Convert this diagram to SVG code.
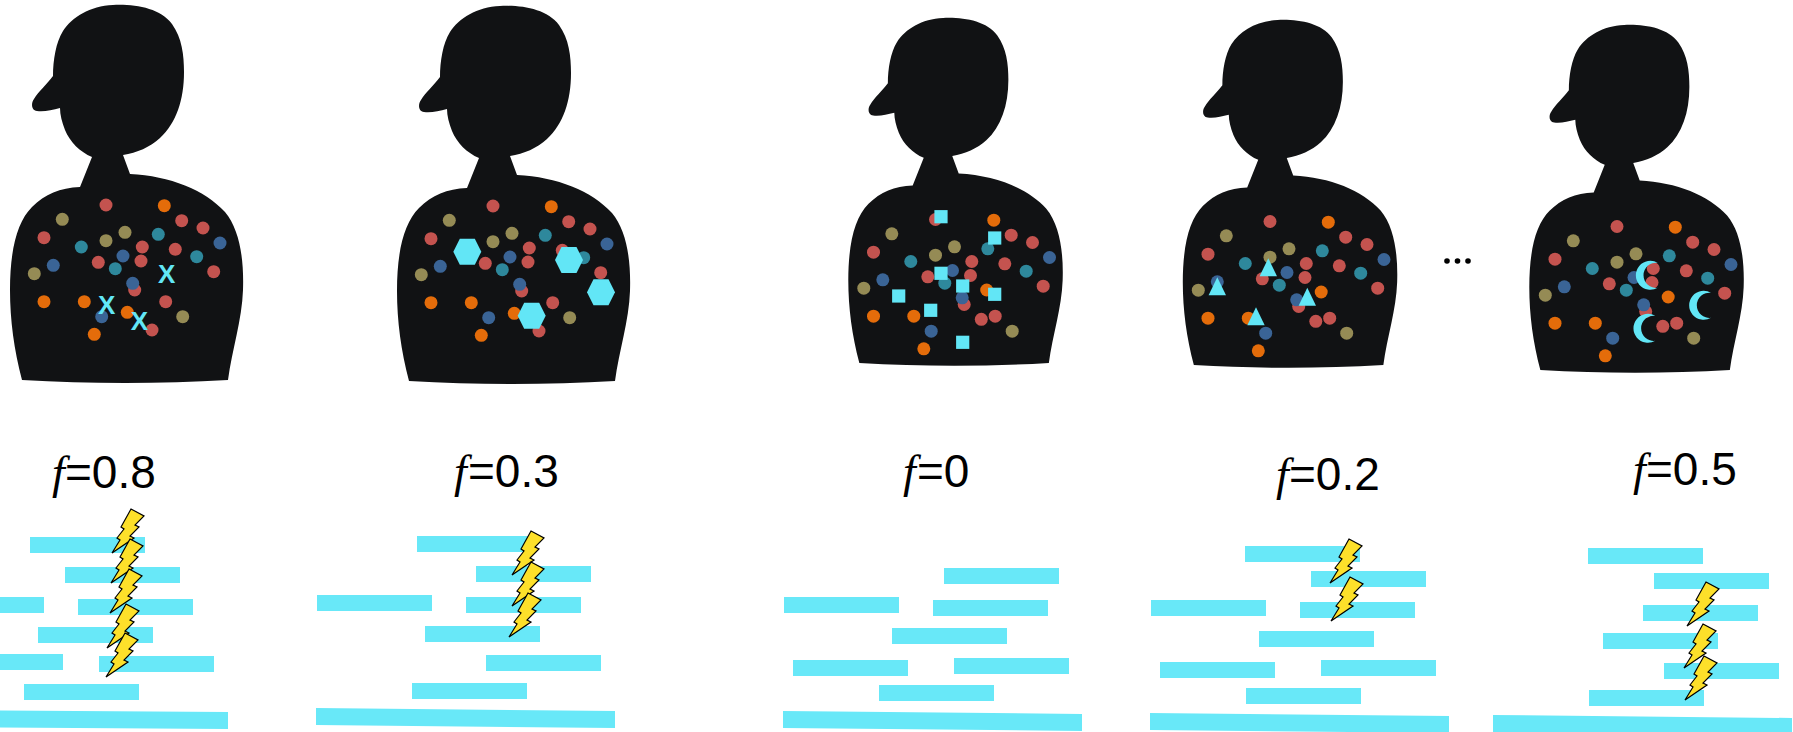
<svg xmlns="http://www.w3.org/2000/svg" xmlns:xlink="http://www.w3.org/1999/xlink" width="1793" height="732" viewBox="0 0 1793 732">
  <style>
    .body { fill: #111214; }
    .r { fill: #c4534f; }
    .o { fill: #e46c0a; }
    .v { fill: #958b55; }
    .t { fill: #2e889c; }
    .b { fill: #3a6496; }
    .mark { fill: #62e6f6; }
    .read { fill: #68e8f8; }
    .bolt { fill: #fde02a; stroke: #000; stroke-width: 1.2; stroke-linejoin: miter; }
    .lbl { font-family: "Liberation Sans", Arial, sans-serif; font-size: 46px; fill: #000; }
    .fv { font-family: "Liberation Serif", "Times New Roman", serif; font-style: italic; font-size: 46px; fill: #000; }
    .xm { font-family: "Liberation Sans", Arial, sans-serif; font-weight: bold; font-size: 26px; fill: #62e6f6; text-anchor: middle; }
  </style>
  <defs>
    <!-- person silhouette with cap -->
    <path id="person" class="body" d="M113,5 C135,4 160,8 172,24 C182,38 184,55 184,72 C184,100 176,123 160,138 C150,147 137,153 123,155 L130,174 C170,176 205,190 225,212 C240,230 244,260 243,290 C242,320 232,350 228,380 C160,384 90,384 22,380 C14,350 10,320 10,290 C10,250 17,222 32,207 C45,194 60,188 80,187 L92,157 C80,152 70,142 65,130 C62,122 60,115 60,108 C52,110 44,112 37,111 C31,110 31,103 34,99 C38,92 47,84 53,76 C53,60 56,42 63,31 C72,17 90,6 113,5 Z"/>
    <!-- dots shared by every individual -->
    <g id="dots-common">
      <circle class="r" cx="106" cy="205" r="6.5"/>
      <circle class="o" cx="164.3" cy="205.7" r="6.5"/>
      <circle class="v" cx="62.3" cy="219.3" r="6.5"/>
      <circle class="r" cx="181.7" cy="220.7" r="6.5"/>
      <circle class="r" cx="203" cy="228" r="6.5"/>
      <circle class="r" cx="44" cy="237.7" r="6.5"/>
      <circle class="v" cx="125" cy="232.3" r="6.5"/>
      <circle class="t" cx="158.3" cy="234.3" r="6.5"/>
      <circle class="v" cx="106" cy="240.7" r="6.5"/>
      <circle class="b" cx="220" cy="243" r="6.5"/>
      <circle class="t" cx="81.3" cy="247" r="6.5"/>
      <circle class="r" cx="142.3" cy="247" r="6.5"/>
      <circle class="r" cx="175.3" cy="249.3" r="6.5"/>
      <circle class="b" cx="123" cy="256" r="6.5"/>
      <circle class="t" cx="196.7" cy="256.7" r="6.5"/>
      <circle class="r" cx="98.3" cy="262.3" r="6.5"/>
      <circle class="r" cx="141" cy="261" r="6.5"/>
      <circle class="b" cx="53.3" cy="265.3" r="6.5"/>
      <circle class="t" cx="115.3" cy="268.7" r="6.5"/>
      <circle class="v" cx="34.3" cy="273.7" r="6.5"/>
      <circle class="r" cx="213.7" cy="271.7" r="6.5"/>
      <circle class="r" cx="134.7" cy="290" r="6.5"/>
      <circle class="b" cx="132.7" cy="283.3" r="6.5"/>
      <circle class="o" cx="44" cy="301.7" r="6.5"/>
      <circle class="o" cx="84.3" cy="301.7" r="6.5"/>
      <circle class="r" cx="165.7" cy="301.7" r="6.5"/>
      <circle class="b" cx="101.7" cy="316.7" r="6.5"/>
      <circle class="v" cx="182.7" cy="316.7" r="6.5"/>
      <circle class="o" cx="94.3" cy="334.3" r="6.5"/>
    </g>
    <g id="dots-a">
      <use xlink:href="#dots-common"/>
      <circle class="o" cx="127.3" cy="312.3" r="6.5"/>
      <circle class="r" cx="152" cy="330" r="6.5"/>
    </g>
    <g id="dots-b">
      <use xlink:href="#dots-common"/>
      <circle class="o" cx="157.2" cy="275.5" r="6.5"/>
      <circle class="r" cx="151.8" cy="304.8" r="6.5"/>
    </g>
    <polygon id="bolt" class="bolt" points="19,0 32,7 23,16 27,18 18,27 22,29 0,44 8,31 5,29 12,20 9,18"/>
    <polygon id="hex" class="mark" points="-14,0 -7.5,-13 7.5,-13 14,0 7.5,13 -7.5,13"/>
    <rect id="sq" class="mark" x="-6.6" y="-6.6" width="13.2" height="13.2"/>
    <polygon id="tri" class="mark" points="0,0 8.7,18 -8.7,18"/>
    <path id="moon" class="mark" d="M7,-12.5 A14.5,14.5 0 1 0 7,12.5 A12.6,12.6 0 1 1 7,-12.5 Z"/>
  </defs>

  <rect width="1793" height="732" fill="#fff"/>

  <!-- individual 1: f=0.8 -->
  <g id="fig-08">
    <use xlink:href="#person"/>
    <use xlink:href="#dots-a"/>
    <text class="xm" x="166.7" y="282.6">X</text>
    <text class="xm" x="106.7" y="314.3">X</text>
    <text class="xm" x="139.3" y="330">X</text>
    <text class="fv" x="52" y="488">f</text>
    <text class="lbl" x="65" y="488">=0.8</text>
    <g class="reads">
      <rect class="read" x="30" y="537" width="115" height="16"/>
      <rect class="read" x="65" y="567" width="115" height="16"/>
      <rect class="read" x="0" y="597" width="44" height="16"/>
      <rect class="read" x="78" y="599" width="115" height="16"/>
      <rect class="read" x="38" y="627" width="115" height="16"/>
      <rect class="read" x="0" y="654" width="63" height="16"/>
      <rect class="read" x="99" y="656" width="115" height="16"/>
      <rect class="read" x="24" y="684" width="115" height="16"/>
      <polygon class="read" points="-71,710 228,712 228,729 -71,727"/>
    </g>
    <use xlink:href="#bolt" x="112" y="509"/>
    <use xlink:href="#bolt" x="111" y="539"/>
    <use xlink:href="#bolt" x="110" y="569"/>
    <use xlink:href="#bolt" x="107" y="604"/>
    <use xlink:href="#bolt" x="106" y="633"/>
  </g>

  <!-- individual 2: f=0.3 -->
  <g id="fig-03">
    <use xlink:href="#person" transform="translate(387,1)"/>
    <use xlink:href="#dots-a" transform="translate(387,1)"/>
    <use xlink:href="#hex" x="467.3" y="251.7"/>
    <use xlink:href="#hex" x="569" y="260"/>
    <use xlink:href="#hex" x="601" y="292.3"/>
    <use xlink:href="#hex" x="531.7" y="315.7"/>
    <text class="fv" x="454" y="487">f</text>
    <text class="lbl" x="468" y="487">=0.3</text>
    <g class="reads">
      <rect class="read" x="417" y="536" width="115" height="16"/>
      <rect class="read" x="476" y="566" width="115" height="16"/>
      <rect class="read" x="317" y="595" width="115" height="16"/>
      <rect class="read" x="466" y="597" width="115" height="16"/>
      <rect class="read" x="425" y="626" width="115" height="16"/>
      <rect class="read" x="486" y="655" width="115" height="16"/>
      <rect class="read" x="412" y="683" width="115" height="16"/>
      <polygon class="read" points="316,708 615,711 615,728 316,725"/>
    </g>
    <use xlink:href="#bolt" x="512" y="531"/>
    <use xlink:href="#bolt" x="512" y="562"/>
    <use xlink:href="#bolt" x="509" y="593"/>
  </g>

  <!-- individual 3: f=0 -->
  <g id="fig-0">
    <use xlink:href="#person" transform="translate(839.1,13.4) scale(0.92)"/>
    <use xlink:href="#dots-b" transform="translate(829.5,14.5)"/>
    <use xlink:href="#sq" x="941" y="216.7"/>
    <use xlink:href="#sq" x="994.7" y="238"/>
    <use xlink:href="#sq" x="941" y="273.3"/>
    <use xlink:href="#sq" x="962.7" y="286"/>
    <use xlink:href="#sq" x="898.7" y="296"/>
    <use xlink:href="#sq" x="994.7" y="294.3"/>
    <use xlink:href="#sq" x="930.7" y="310.3"/>
    <use xlink:href="#sq" x="962.7" y="342.3"/>
    <text class="fv" x="903" y="487">f</text>
    <text class="lbl" x="917" y="487">=0</text>
    <g class="reads">
      <rect class="read" x="944" y="568" width="115" height="16"/>
      <rect class="read" x="784" y="597" width="115" height="16"/>
      <rect class="read" x="933" y="600" width="115" height="16"/>
      <rect class="read" x="892" y="628" width="115" height="16"/>
      <rect class="read" x="793" y="660" width="115" height="16"/>
      <rect class="read" x="954" y="658" width="115" height="16"/>
      <rect class="read" x="879" y="685" width="115" height="16"/>
      <polygon class="read" points="783,711 1082,714 1082,731 783,728"/>
    </g>
  </g>

  <!-- individual 4: f=0.2 -->
  <g id="fig-02">
    <use xlink:href="#person" transform="translate(1173.6,15.4) scale(0.92)"/>
    <use xlink:href="#dots-b" transform="translate(1164,16.5)"/>
    <use xlink:href="#tri" x="1268.3" y="258.3"/>
    <use xlink:href="#tri" x="1217.3" y="277.3"/>
    <use xlink:href="#tri" x="1307.3" y="287.7"/>
    <use xlink:href="#tri" x="1256" y="307.3"/>
    <text class="fv" x="1276" y="490">f</text>
    <text class="lbl" x="1289" y="490">=0.2</text>
    <g class="reads">
      <rect class="read" x="1245" y="546" width="115" height="16"/>
      <rect class="read" x="1311" y="571" width="115" height="16"/>
      <rect class="read" x="1151" y="600" width="115" height="16"/>
      <rect class="read" x="1300" y="602" width="115" height="16"/>
      <rect class="read" x="1259" y="631" width="115" height="16"/>
      <rect class="read" x="1160" y="662" width="115" height="16"/>
      <rect class="read" x="1321" y="660" width="115" height="16"/>
      <rect class="read" x="1246" y="688" width="115" height="16"/>
      <polygon class="read" points="1150,713 1449,716 1449,733 1150,730"/>
    </g>
    <use xlink:href="#bolt" x="1330" y="539"/>
    <use xlink:href="#bolt" x="1331" y="577"/>
  </g>

  <!-- ellipsis between individuals -->
  <g id="ellipsis">
    <circle cx="1447" cy="261" r="2.8" fill="#000"/>
    <circle cx="1457.5" cy="261" r="2.8" fill="#000"/>
    <circle cx="1468" cy="261" r="2.8" fill="#000"/>
  </g>

  <!-- individual 5: f=0.5 -->
  <g id="fig-05">
    <use xlink:href="#person" transform="translate(1520.1,20.4) scale(0.92)"/>
    <use xlink:href="#dots-b" transform="translate(1511,21.5)"/>
    <use xlink:href="#moon" x="1650.7" y="275.3"/>
    <use xlink:href="#moon" x="1704" y="305.3"/>
    <use xlink:href="#moon" x="1648.3" y="328.3"/>
    <text class="fv" x="1633" y="485">f</text>
    <text class="lbl" x="1646" y="485">=0.5</text>
    <g class="reads">
      <rect class="read" x="1588" y="548" width="115" height="16"/>
      <rect class="read" x="1654" y="573" width="115" height="16"/>
      <rect class="read" x="1643" y="605" width="115" height="16"/>
      <rect class="read" x="1603" y="633" width="115" height="16"/>
      <rect class="read" x="1664" y="663" width="115" height="16"/>
      <rect class="read" x="1589" y="690" width="115" height="16"/>
      <polygon class="read" points="1493,715 1792,718 1792,735 1493,732"/>
    </g>
    <use xlink:href="#bolt" x="1687" y="582"/>
    <use xlink:href="#bolt" x="1684" y="624"/>
    <use xlink:href="#bolt" x="1685" y="656"/>
  </g>

  <!-- no connectors in this figure -->
  <g id="connectors"/>
</svg>
